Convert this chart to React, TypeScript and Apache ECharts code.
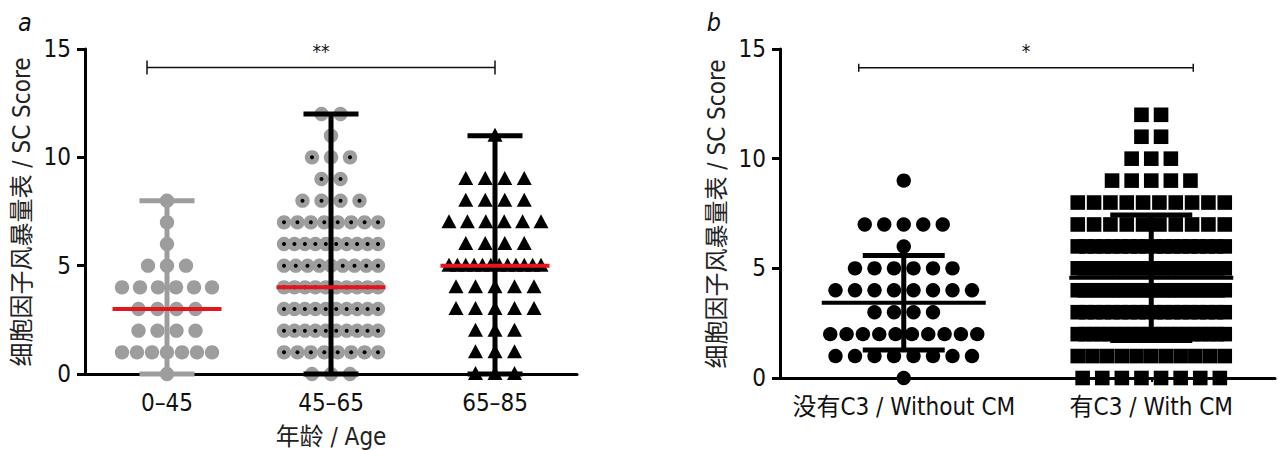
import React, { useEffect, useRef } from "react";
import * as echarts from "echarts";

const FONT = "'Liberation Sans Narrow','DejaVu Sans Condensed','Noto Sans CJK SC',sans-serif";

// shared
const scoreLevels = [0, 1, 2, 3, 4, 5, 6, 7, 8, 9, 10, 11, 12];
const yTicks = { min: 0, max: 15, interval: 5 };
const yTitle = "细胞因子风暴量表 / SC Score";

// panel a: age groups (counts per score level 0..12)
const ageCategories = ["0–45", "45–65", "65–85"];
const age0to45Counts = [1, 7, 4, 4, 6, 3, 1, 1, 1, 0, 0, 0, 0];
const age45to65Counts = [3, 8, 10, 10, 10, 9, 10, 8, 4, 2, 3, 1, 2];
const age65to85Counts = [3, 3, 3, 5, 5, 12, 4, 6, 4, 4, 0, 1, 0];
const ageMedians = [3, 4, 5];
const ageRangeMin = [0, 0, 0];
const ageRangeMax = [8, 12, 11];
const ageAxisTitle = "年龄 / Age";
const ageSignif = "**";

// panel b: CM groups
const cmCategories = ["没有C3 / Without CM", "有C3 / With CM"];
const withoutCMCounts = [1, 8, 10, 4, 8, 6, 1, 5, 0, 1, 0, 0, 0];
const withCMCounts = [8, 11, 20, 18, 22, 22, 18, 10, 10, 5, 3, 2, 2];
const cmMeans = [3.43, 4.57];
const cmSD = [2.15, 2.86];
const cmSignif = "*";
const bracketLevel = 14.15;

const GREY = "#9d9d9d";
const RED = "#e3161c";
const FS = 24;

function swarm(counts: number[], cat: number, pitch: number, maxSpan: number) {
  const pts: number[][] = [];
  counts.forEach((n, li) => {
    if (!n) return;
    const p = n > 1 ? Math.min(pitch, maxSpan / (n - 1)) : 0;
    for (let i = 0; i < n; i++) pts.push([cat, scoreLevels[li], (i - (n - 1) / 2) * p]);
  });
  return pts;
}

function pointSeries(data: number[][], idx: number, shape: string) {
  return {
    type: "custom",
    xAxisIndex: idx,
    yAxisIndex: idx,
    encode: { x: 0, y: 1 },
    clip: false,
    data,
    renderItem: (params: any, api: any) => {
      const c = api.coord([api.value(0), api.value(1)]);
      const x = c[0] + api.value(2);
      const y = c[1];
      if (shape === "grey") {
        return { type: "circle", shape: { cx: x, cy: y, r: 7.2 }, style: { fill: GREY } };
      }
      if (shape === "dotted") {
        return {
          type: "group",
          children: [
            { type: "circle", shape: { cx: x, cy: y, r: 7.2 }, style: { fill: GREY } },
            { type: "circle", shape: { cx: x, cy: y, r: 2 }, style: { fill: "#000" } },
          ],
        };
      }
      if (shape === "tri") {
        return {
          type: "polygon",
          shape: { points: [[x, y - 8], [x - 7.5, y + 6], [x + 7.5, y + 6]] },
          style: { fill: "#000" },
        };
      }
      if (shape === "square") {
        return { type: "rect", shape: { x: x - 7.3, y: y - 7.3, width: 14.6, height: 14.6 }, style: { fill: "#000" } };
      }
      return { type: "circle", shape: { cx: x, cy: y, r: 7.2 }, style: { fill: "#000" } };
    },
  };
}

function barSeries(data: any[], idx: number, capHalf: number, centerHalf: number) {
  return {
    type: "custom",
    xAxisIndex: idx,
    yAxisIndex: idx,
    encode: { x: 0, y: [1, 2, 3] },
    clip: false,
    z: 5,
    data,
    renderItem: (params: any, api: any) => {
      const cat = api.value(0);
      const lo = api.coord([cat, api.value(1)]);
      const hi = api.coord([cat, api.value(2)]);
      const mid = api.coord([cat, api.value(3)]);
      const color = api.value(4) === 1 ? GREY : "#000";
      const centerColor = api.value(5) === 1 ? RED : "#000";
      const x = lo[0];
      return {
        type: "group",
        children: [
          { type: "line", shape: { x1: x, y1: lo[1], x2: x, y2: hi[1] }, style: { stroke: color, lineWidth: 5 } },
          { type: "line", shape: { x1: x - capHalf, y1: lo[1], x2: x + capHalf, y2: lo[1] }, style: { stroke: color, lineWidth: 5 } },
          { type: "line", shape: { x1: x - capHalf, y1: hi[1], x2: x + capHalf, y2: hi[1] }, style: { stroke: color, lineWidth: 5 } },
          { type: "line", shape: { x1: x - centerHalf, y1: mid[1], x2: x + centerHalf, y2: mid[1] }, style: { stroke: centerColor, lineWidth: 4 } },
        ],
      };
    },
  };
}

function bracketSeries(data: any[], idx: number, dxL: number, dxR: number, tickHalf: number, label: string) {
  return {
    type: "custom",
    xAxisIndex: idx,
    yAxisIndex: idx,
    encode: { x: [0, 1], y: 2 },
    clip: false,
    data,
    renderItem: (params: any, api: any) => {
      const a = api.coord([api.value(0), api.value(2)]);
      const b = api.coord([api.value(1), api.value(2)]);
      const x1 = a[0] + dxL;
      const x2 = b[0] + dxR;
      const y = a[1];
      const st = { stroke: "#111", lineWidth: 1.5 };
      return {
        type: "group",
        children: [
          { type: "line", shape: { x1, y1: y, x2, y2: y }, style: st },
          { type: "line", shape: { x1, y1: y - tickHalf, x2: x1, y2: y + tickHalf }, style: st },
          { type: "line", shape: { x1: x2, y1: y - tickHalf, x2, y2: y + tickHalf }, style: st },
          {
            type: "text",
            x: (x1 + x2) / 2,
            y: y - 7,
            style: { text: label, fontSize: 19, fontFamily: FONT, fill: "#111", align: "center", verticalAlign: "bottom" },
          },
        ],
      };
    },
  };
}

function axisPair(gridIndex: number, cats: string[]) {
  const x = {
    type: "category",
    gridIndex,
    data: cats,
    boundaryGap: true,
    axisLine: { lineStyle: { color: "#000", width: 3 } },
    axisTick: { show: true, alignWithLabel: true, length: 4, lineStyle: { color: "#000", width: 2 } },
    axisLabel: { fontSize: FS, fontFamily: FONT, color: "#111", margin: 17, interval: 0 },
    splitLine: { show: false },
  };
  const y = {
    type: "value",
    gridIndex,
    min: yTicks.min,
    max: yTicks.max,
    interval: yTicks.interval,
    axisLine: { show: true, lineStyle: { color: "#000", width: 3 } },
    axisTick: { show: true, length: 8, lineStyle: { color: "#000", width: 3 } },
    axisLabel: { fontSize: FS, fontFamily: FONT, color: "#111", margin: 14 },
    splitLine: { show: false },
  };
  return { x, y };
}

export default function App() {
  const ref = useRef<HTMLDivElement>(null);
  useEffect(() => {
    if (!ref.current) return;
    const chart = echarts.init(ref.current, undefined, { renderer: "svg" });
    const pa = axisPair(0, ageCategories);
    const pb = axisPair(1, cmCategories);

    const ageBars = [0, 1, 2].map((i) => [i, ageRangeMin[i], ageRangeMax[i], ageMedians[i], i === 0 ? 1 : 0, 1]);
    const cmBars = [0, 1].map((i) => [i, cmMeans[i] - cmSD[i], cmMeans[i] + cmSD[i], cmMeans[i], 0, 0]);

    chart.setOption({
      animation: false,
      grid: [
        { left: 85, top: 49, width: 492, height: 325 },
        { left: 780, top: 49, width: 495, height: 329 },
      ],
      xAxis: [pa.x, pb.x],
      yAxis: [pa.y, pb.y],
      series: [
        pointSeries(swarm(age0to45Counts, 0, 19, 90), 0, "grey"),
        pointSeries(swarm(age45to65Counts, 1, 19, 94), 0, "dotted"),
        pointSeries(swarm(age65to85Counts, 2, 19.5, 92), 0, "tri"),
        barSeries(ageBars, 0, 27.5, 54.5),
        bracketSeries([[0, 2, bracketLevel]], 0, -20, 0, 7, ageSignif),
        pointSeries(swarm(withoutCMCounts, 0, 19.5, 147), 1, "black"),
        pointSeries(swarm(withCMCounts, 1, 19.6, 147), 1, "square"),
        barSeries(cmBars, 1, 41, 82),
        bracketSeries([[0, 1, bracketLevel]], 1, -45, 42, 4, cmSignif),
      ],
      graphic: [
        { type: "text", x: 25, y: 22, style: { text: "a", fontSize: 25, fontStyle: "italic", fontFamily: FONT, fill: "#111", align: "center", verticalAlign: "middle" } },
        { type: "text", x: 714, y: 22, style: { text: "b", fontSize: 25, fontStyle: "italic", fontFamily: FONT, fill: "#111", align: "center", verticalAlign: "middle" } },
        { type: "text", x: 22, y: 212, rotation: Math.PI / 2, style: { text: yTitle, fontSize: FS, fontFamily: FONT, fill: "#222", align: "center", verticalAlign: "middle" } },
        { type: "text", x: 717, y: 214, rotation: Math.PI / 2, style: { text: yTitle, fontSize: FS, fontFamily: FONT, fill: "#222", align: "center", verticalAlign: "middle" } },
        { type: "text", x: 331, y: 437, style: { text: ageAxisTitle, fontSize: FS, fontFamily: FONT, fill: "#222", align: "center", verticalAlign: "middle" } },
      ],
    });
    return () => chart.dispose();
  }, []);
  return <div ref={ref} style={{ position: "absolute", left: 0, top: 0, width: 1278, height: 450 }} />;
}
